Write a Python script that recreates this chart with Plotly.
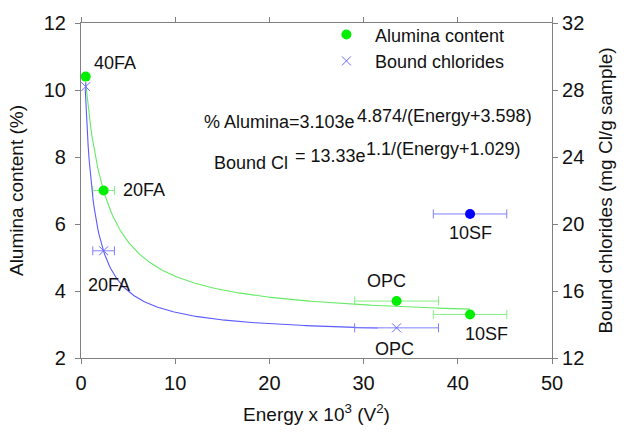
import numpy as np
import plotly.graph_objects as go

# Mix designs and measured values
mixes = ["40FA", "20FA", "OPC", "10SF"]
energy = [0.5, 2.4, 33.5, 41.3]            # Energy x 10^3 (V^2)
energy_err = [None, 1.15, 4.45, 3.9]
alumina = [10.4, 7.0, 3.7, 3.3]            # Alumina content (%)

cl_mixes = ["40FA", "20FA", "OPC"]
cl_energy = [0.5, 2.4, 33.5]
cl_energy_err = [None, 1.15, 4.45]
bound_cl = [28.2, 18.4, 13.8]              # mg Cl/g sample

sf_energy = [41.3]
sf_energy_err = [3.9]
sf_bound_cl = [20.6]

# Fitted model parameters: y = a * exp(b / (Energy + c))
alumina_fit = (3.103, 4.874, 3.598)
cl_fit = (13.33, 1.1, 1.029)
alumina_fit_span = (0.5, 41.3)
cl_fit_span = (0.45, 31.5)

FONT = "Arial, Liberation Sans, sans-serif"
AXIS_COLOR = "#808080"


def fit_curve(params, span, n=300):
    a, b, c = params
    x = np.linspace(span[0], span[1], n)
    return x, a * np.exp(b / (x + c))


xa, ya = fit_curve(alumina_fit, alumina_fit_span)
xc, yc = fit_curve(cl_fit, cl_fit_span)

fig = go.Figure()

fig.add_trace(go.Scatter(x=xa, y=ya, mode="lines", yaxis="y",
                         line=dict(color="#66ea66", width=1.1),
                         showlegend=False, hoverinfo="skip"))
fig.add_trace(go.Scatter(x=xc, y=yc, mode="lines", yaxis="y2",
                         line=dict(color="#5a5aff", width=1.1),
                         showlegend=False, hoverinfo="skip"))

fig.add_trace(go.Scatter(
    x=energy, y=alumina, mode="markers", name="Alumina content", yaxis="y",
    marker=dict(symbol="circle", size=10, color="#00ee00"),
    error_x=dict(type="data", array=energy_err, color="#86f086",
                 thickness=1, width=4.5),
    text=mixes))

fig.add_trace(go.Scatter(
    x=cl_energy, y=bound_cl, mode="markers", name="Bound chlorides", yaxis="y2",
    marker=dict(symbol="x-thin", size=9, color="#6a6aff",
                line=dict(color="#6a6aff", width=1)),
    error_x=dict(type="data", array=cl_energy_err, color="#8080ff",
                 thickness=1, width=4.5),
    text=cl_mixes))

fig.add_trace(go.Scatter(
    x=sf_energy, y=sf_bound_cl, mode="markers", yaxis="y2", showlegend=False,
    marker=dict(symbol="circle", size=10, color="#0000ff"),
    error_x=dict(type="data", array=sf_energy_err, color="#8080ff",
                 thickness=1, width=4.5),
    text=["10SF"]))

# Point labels
labels = [
    ("40FA", 1.17, 10.80, "left"),
    ("20FA", 4.25, 7.03, "left"),
    ("20FA", 2.97, 4.17, "center"),
    ("OPC", 32.4, 4.31, "center"),
    ("10SF", 43.0, 2.72, "center"),
    ("OPC", 33.3, 2.26, "center"),
    ("10SF", 41.4, 5.73, "center"),
]
annotations = [dict(x=x, y=y, xref="x", yref="y", text=t, showarrow=False,
                    xanchor=xa_, yanchor="middle",
                    font=dict(family=FONT, size=18, color="#111"))
               for t, x, y, xa_ in labels]

# Fit equations
equations = [
    ("% Alumina=3.103e", 12.85, 9.05),
    ("4.874/(Energy+3.598)", 29.09, 9.21),
    ("Bound Cl", 13.91, 7.83),
    ("= 13.33e", 22.51, 8.04),
    ("1.1/(Energy+1.029)", 30.05, 8.24),
]
annotations += [dict(x=x, y=y, xref="x", yref="y", text=t, showarrow=False,
                     xanchor="left", yanchor="middle",
                     font=dict(family=FONT, size=18, color="#111"))
                for t, x, y in equations]

axis_common = dict(showline=True, linecolor=AXIS_COLOR, linewidth=1.2,
                   ticks="outside", ticklen=5, tickcolor=AXIS_COLOR,
                   tickwidth=1.2, showgrid=False, zeroline=False,
                   tickfont=dict(family=FONT, size=20, color="#111"))

fig.update_layout(
    width=627, height=439,
    margin=dict(l=81, r=75, t=18, b=81),
    paper_bgcolor="white", plot_bgcolor="white",
    font=dict(family=FONT, size=18, color="#111"),
    xaxis=dict(range=[0, 50], dtick=10, mirror="allticks",
               ticklabelstandoff=2,
               title=dict(text="Energy x 10<sup>3</sup> (V<sup>2</sup>)",
                          font=dict(family=FONT, size=19), standoff=14),
               **axis_common),
    yaxis=dict(range=[2, 12], dtick=2, ticklabelstandoff=5,
               title=dict(text="Alumina content (%)",
                          font=dict(family=FONT, size=19)),
               **axis_common),
    yaxis2=dict(range=[12, 32], dtick=4, overlaying="y", side="right",
                title=dict(text="Bound chlorides (mg Cl/g sample)",
                           font=dict(family=FONT, size=19)),
                **axis_common),
    legend=dict(x=0.503, y=1.02, xanchor="left", yanchor="top",
                bgcolor="rgba(0,0,0,0)", itemwidth=47,
                font=dict(family=FONT, size=18, color="#111")),
    annotations=annotations,
)

fig.write_html("out.html")
